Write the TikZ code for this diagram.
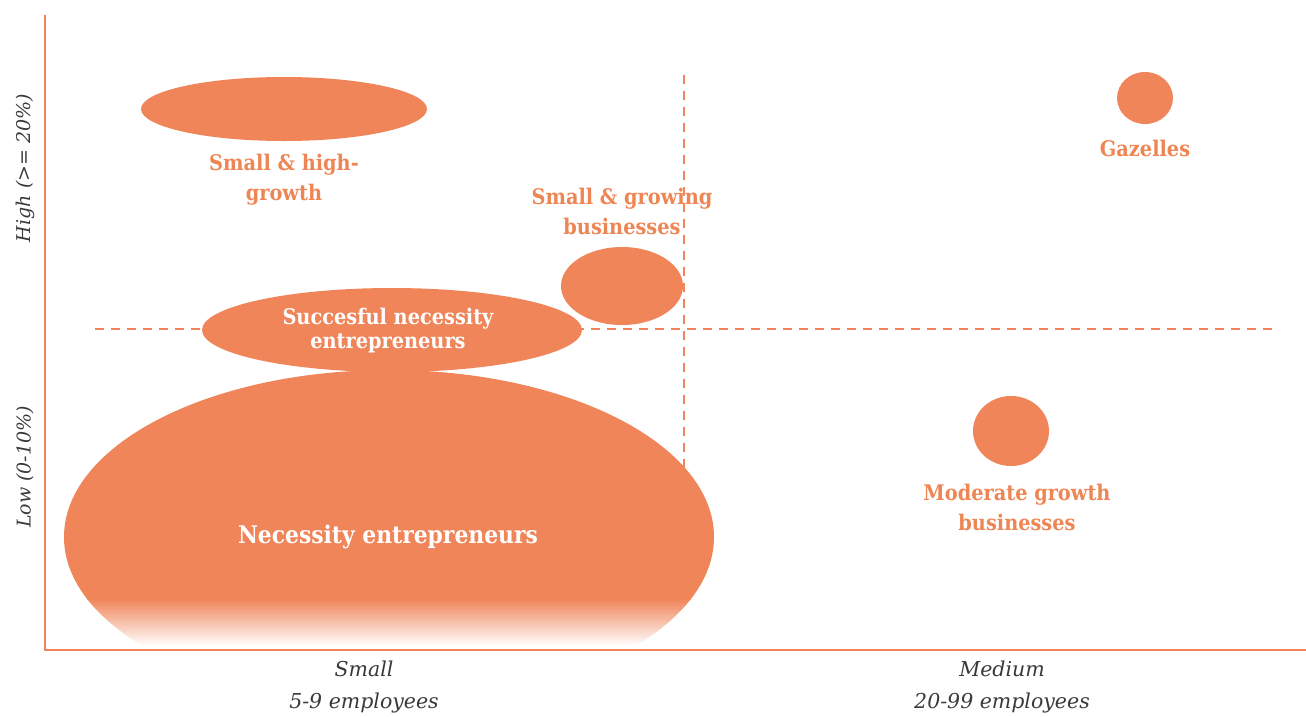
\documentclass[tikz,border=0pt]{standalone}
\usepackage{fontspec}
\setmainfont{DejaVu Serif}
\newfontfamily\lblfont{DejaVu Serif Condensed}
\usetikzlibrary{shapes.geometric}
\definecolor{org}{HTML}{F0855A}
\definecolor{txtorg}{HTML}{EE8554}
\definecolor{gry}{HTML}{3A3A3A}
\begin{document}
\begin{tikzpicture}[x=1pt,y=-1pt,
  blob/.style={fill=org,draw=none},
  olabel/.style={text=txtorg,font=\lblfont\bfseries\fontsize{21.5}{30}\selectfont,align=center},
  wlabel/.style={text=white,font=\lblfont\bfseries\fontsize{21.5}{24}\selectfont,align=center},
  axlabel/.style={text=gry,font=\itshape\fontsize{20.5}{32}\selectfont,align=center},
  guide/.style={draw=org,dash pattern=on 9pt off 7pt,line width=1.2pt},
  axis/.style={draw=org,line width=2.2pt}]
\useasboundingbox (0,0) rectangle (1306,716);
% big ellipse with fade
\begin{scope}
\clip (389,537) ellipse [x radius=325, y radius=167];
\fill[org] (50,360) rectangle (730,600);
\shade[top color=org,bottom color=white] (50,599) rectangle (730,646);
\fill[white] (50,645) rectangle (730,710);
\end{scope}
\node[wlabel,font=\lblfont\bfseries\fontsize{24.3}{28}\selectfont] (necc) at (388,537) {Necessity entrepreneurs};
% guides
\coordinate (hl) at (95,329); \coordinate (hr) at (1275,329);
\coordinate (vt) at (684,75); \coordinate (vb) at (684,470);
% other blobs
\node[blob,ellipse,minimum width=286,minimum height=64,inner sep=0] (shg) at (284,109) {};
\node[blob,ellipse,minimum width=56,minimum height=52,inner sep=0] (gaz) at (1145,98) {};
\node[blob,ellipse,minimum width=122,minimum height=78,inner sep=0] (sgb) at (622,286) {};
\draw[guide] (hl) -- (hr);
\draw[guide] (vt) -- (vb);
\node[blob,ellipse,minimum width=380,minimum height=84,inner sep=0] (sne) at (392,330) {};
\node[blob,ellipse,minimum width=76,minimum height=70,inner sep=0] (mgb) at (1011,431) {};
% labels
\node[olabel] (shgl) at (284,180) {Small \& high-\\growth};
\node[olabel] (gazl) at (1145,148) {Gazelles};
\node[olabel] (sgbl) at (622,211) {Small \& growing\\businesses};
\node[wlabel] (snel) at (388,331) {Succesful necessity\\entrepreneurs};
\node[olabel] (mgbl) at (1017,507) {Moderate growth\\businesses};
% axes
\coordinate (o) at (45,650); \coordinate (yt) at (45,15); \coordinate (xr) at (1306,650);
\draw[axis] (yt) -- (o) -- (xr);
\node[axlabel] (xs) at (364,687) {Small\\5-9 employees};
\node[axlabel] (xm) at (1002,687) {Medium\\20-99 employees};
\node[axlabel,font=\itshape\fontsize{19}{32}\selectfont,rotate=90] (yh) at (25,168) {High (>= 20\%)};
\node[axlabel,font=\itshape\fontsize{19}{32}\selectfont,rotate=90] (yl) at (25,467) {Low (0-10\%)};
\end{tikzpicture}
\end{document}
